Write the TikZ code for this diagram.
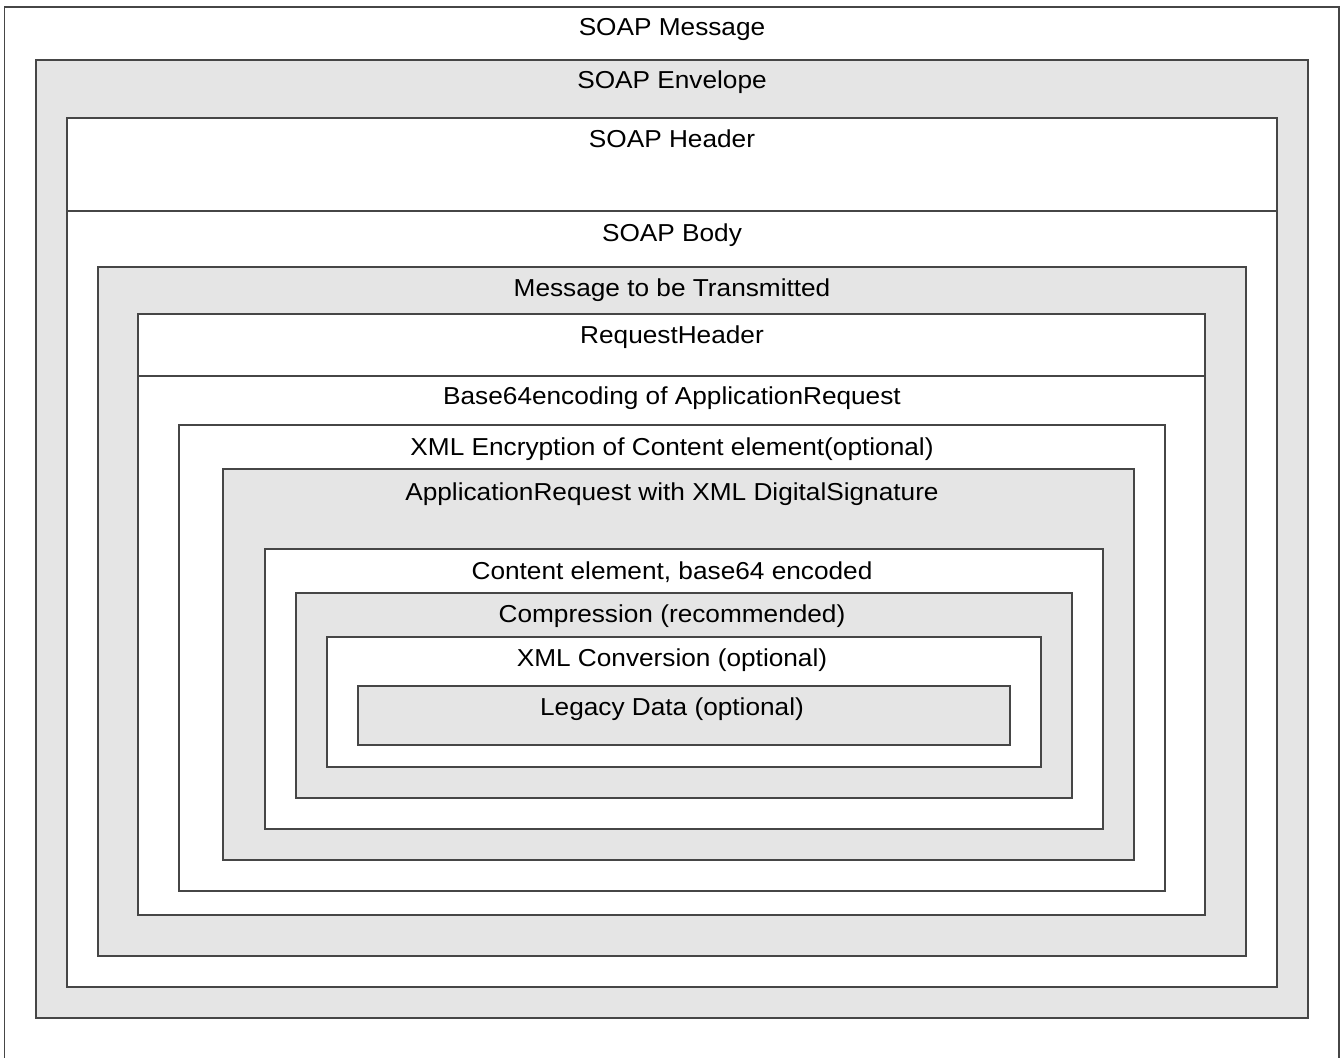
\documentclass[tikz,border=0pt]{standalone}
\usepackage{fontspec}
\setmainfont{Liberation Sans}[FakeStretch=1.07]
\usetikzlibrary{fit}
\definecolor{boxgray}{RGB}{229,229,229}
\definecolor{edge}{RGB}{70,70,70}
\tikzset{
  wbox/.style={draw=edge, line width=1.1pt, fill=white, inner sep=0pt},
  gbox/.style={draw=edge, line width=1.1pt, fill=boxgray, inner sep=0pt},
  lbl/.style={anchor=base, inner sep=0pt, font=\fontsize{24.5}{28}\selectfont, text=black}
}
\begin{document}
\begin{tikzpicture}[x=1pt,y=-1pt]
\useasboundingbox (0,0) rectangle (1342,1058);
% boxes
\node[wbox, fit={(4.5,7) (1339,1070)}] (msg) {};
\node[gbox, fit={(36,60) (1308,1018)}] (env) {};
\node[wbox, fit={(67,118) (1277,211)}] (hdr) {};
\node[wbox, fit={(67,211) (1277,987)}] (body) {};
\node[gbox, fit={(98,267) (1246,956)}] (mtt) {};
\node[wbox, fit={(138,314) (1205,376)}] (rqh) {};
\node[wbox, fit={(138,376) (1205,915)}] (b64) {};
\node[wbox, fit={(179,425) (1165,891)}] (enc) {};
\node[gbox, fit={(223,469) (1134,860)}] (apr) {};
\node[wbox, fit={(265,549) (1103,829)}] (cnt) {};
\node[gbox, fit={(296,593) (1072,798)}] (cmp) {};
\node[wbox, fit={(327,637) (1041,767)}] (xcv) {};
\node[gbox, fit={(358,686) (1010,745)}] (leg) {};
% labels
\node[lbl] (tmsg) at (672,35.5) {SOAP Message};
\node[lbl] (tenv) at (672,88.5) {SOAP Envelope};
\node[lbl] (thdr) at (672,147.5) {SOAP Header};
\node[lbl] (tbody) at (672,241.5) {SOAP Body};
\node[lbl] (tmtt) at (672,296.5) {Message to be Transmitted};
\node[lbl] (trqh) at (672,343.5) {RequestHeader};
\node[lbl] (tb64) at (672,404.5) {Base64encoding of ApplicationRequest};
\node[lbl] (tenc) at (672,455.5) {XML Encryption of Content element(optional)};
\node[lbl] (tapr) at (672,500.5) {ApplicationRequest with XML DigitalSignature};
\node[lbl] (tcnt) at (672,579.5) {Content element, base64 encoded};
\node[lbl] (tcmp) at (672,622.5) {Compression (recommended)};
\node[lbl] (txcv) at (672,666.5) {XML Conversion (optional)};
\node[lbl] (tleg) at (672,715.5) {Legacy Data (optional)};
\end{tikzpicture}
\end{document}
